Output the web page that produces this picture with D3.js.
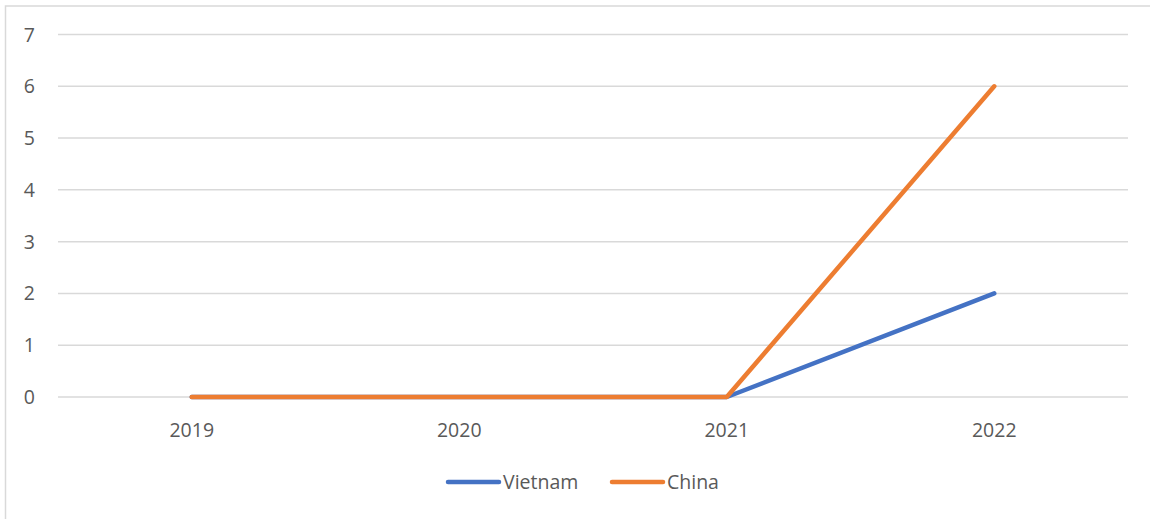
<!DOCTYPE html>
<html><head><meta charset="utf-8">
<script src="https://cdn.jsdelivr.net/npm/d3@7"></script>
<style>body{margin:0;background:#fff;} svg{display:block;}</style>
</head><body>
<svg id="c" width="1150" height="519"></svg>
<script>
const years = ["2019","2020","2021","2022"];
const vietnam = [0,0,0,2];
const china = [0,0,0,6];
const yTicks = [0,1,2,3,4,5,6,7];
const seriesNames = ["Vietnam","China"];
const colors = ["#4472C4","#ED7D31"];

const svg = d3.select("#c");
const font = "'Open Sans', Lato, sans-serif";
const fs = 19.5;
// frame
svg.append("rect").attr("x",5.5).attr("y",6).attr("width",1160).attr("height",530)
  .attr("fill","none").attr("stroke","#d9d9d9").attr("stroke-width",1.5);

const x = d3.scaleBand().domain(years).range([58,1128]);
const y = d3.scaleLinear().domain([0,7]).range([397,34.5]);

// grid
svg.append("g").selectAll("line").data(yTicks).join("line")
  .attr("x1",58).attr("x2",1128).attr("y1",d=>y(d)).attr("y2",d=>y(d))
  .attr("stroke","#d9d9d9").attr("stroke-width",1.5);

// y labels
svg.append("g").selectAll("text").data(yTicks).join("text")
  .attr("x",35).attr("y",d=>y(d)).attr("dy","0.36em").attr("text-anchor","end")
  .attr("font-family",font).attr("font-size",fs).attr("fill","#595959").text(d=>d);

// x labels
svg.append("g").selectAll("text").data(years).join("text")
  .attr("x",d=>x(d)+x.bandwidth()/2).attr("y",437).attr("text-anchor","middle")
  .attr("font-family",font).attr("font-size",fs).attr("fill","#595959").text(d=>d);

const line = d3.line().x((d,i)=>x(years[i])+x.bandwidth()/2).y(d=>y(d));
[vietnam, china].forEach((s,i)=>{
  svg.append("path").attr("d",line(s)).attr("fill","none").attr("stroke",colors[i])
    .attr("stroke-width",4.5).attr("stroke-linecap","round").attr("stroke-linejoin","round");
});

// legend
const legendItems = [{x:448, name:seriesNames[0], c:colors[0]},{x:612, name:seriesNames[1], c:colors[1]}];
legendItems.forEach(l=>{
  svg.append("line").attr("x1",l.x).attr("x2",l.x+51).attr("y1",482).attr("y2",482)
    .attr("stroke",l.c).attr("stroke-width",4.5).attr("stroke-linecap","round");
  svg.append("text").attr("x",l.x+55).attr("y",482).attr("dy","0.36em")
    .attr("font-family",font).attr("font-size",fs).attr("fill","#595959").text(l.name);
});
</script>
</body></html>
